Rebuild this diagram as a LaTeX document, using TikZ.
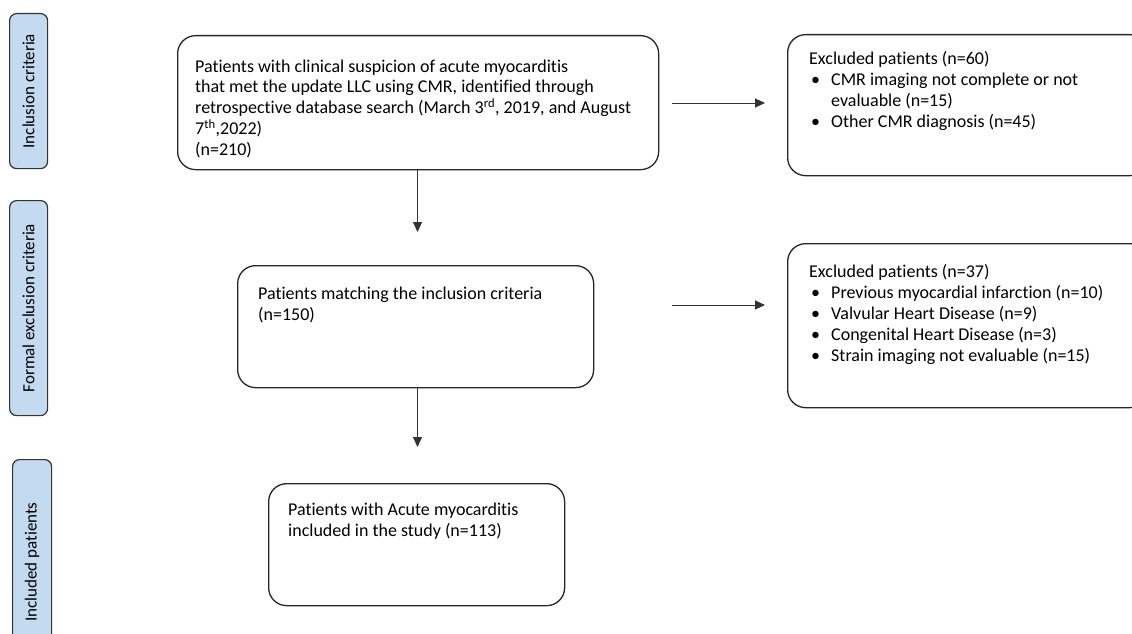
\documentclass[tikz,border=0pt]{standalone}
\usepackage{fontspec}
\setmainfont[Ligatures=NoCommon]{Carlito}
\usetikzlibrary{arrows.meta}
\definecolor{sidefill}{HTML}{C3DAF0}
\definecolor{sidedraw}{HTML}{333333}
\tikzset{
  sidebox/.style={draw=sidedraw, line width=1.2pt, fill=sidefill, rounded corners=7pt, inner sep=0pt, anchor=north west},
  sidetxt/.style={rotate=90, font=\fontsize{17}{20}\selectfont, inner sep=0pt},
  mainbox/.style={draw=black!85, line width=1.3pt, rounded corners=18pt, inner sep=0pt, anchor=north west},
  txt/.style={anchor=north west, inner sep=0pt, align=left, font=\fontsize{18}{20.8}\selectfont},
  arr/.style={draw=black!80, line width=0.9pt, -{Triangle[length=10pt,width=9pt]}},
}
\newcommand{\bul}{\makebox[22pt][l]{\hspace{2pt}\textbullet}}
\newcommand{\bulsp}{\hspace*{22pt}}
\newcommand{\sups}[1]{\smash{\textsuperscript{#1}}}
\begin{document}
\begin{tikzpicture}[x=1pt,y=-1pt]
\clip (0,0) rectangle (1132,634);
\fill[white] (0,0) rectangle (1132,634);
% side labels
\node[sidebox, minimum width=38pt, minimum height=155pt] (S1) at (9,13) {};
\node[sidetxt] (S1t) at (S1.center) {Inclusion criteria};
\node[sidebox, minimum width=38pt, minimum height=215pt] (S2) at (9,200) {};
\node[sidetxt] (S2t) at (S2.center) {Formal exclusion criteria};
\node[sidebox, minimum width=39pt, minimum height=205pt] (S3) at (12,459) {};
\node[sidetxt] (S3t) at (S3.center) {Included patients};
% main boxes
\node[mainbox, minimum width=481pt, minimum height=134pt] (A) at (177,35) {};
\node[txt] (At) at (195,59.5) {Patients with clinical suspicion of acute myocarditis\\
that met the update LLC using CMR, identified through\\
retrospective database search (March 3\sups{rd}, 2019, and August\\
7\sups{th},2022)\\
(n=210)};
\node[mainbox, minimum width=356pt, minimum height=122pt] (B) at (237,265) {};
\node[txt] (Bt) at (258,286.5) {Patients matching the inclusion criteria\\(n=150)};
\node[mainbox, minimum width=296pt, minimum height=122pt] (C) at (268,483) {};
\node[txt] (Ct) at (288,502.5) {Patients with Acute myocarditis\\included in the study (n=113)};
\node[mainbox, minimum width=360pt, minimum height=141pt] (E1) at (787,34) {};
\node[txt] (E1t) at (809,51.5) {Excluded patients (n=60)\\
\bul CMR imaging not complete or not\\
\bulsp evaluable (n=15)\\
\bul Other CMR diagnosis (n=45)};
\node[mainbox, minimum width=360pt, minimum height=164pt] (E2) at (787,243) {};
\node[txt] (E2t) at (809,264.5) {Excluded patients (n=37)\\
\bul Previous myocardial infarction (n=10)\\
\bul Valvular Heart Disease (n=9)\\
\bul Congenital Heart Disease (n=3)\\
\bul Strain imaging not evaluable (n=15)};
% connectors
\coordinate (dA) at (417.5,232);
\coordinate (dB) at (417.5,447);
\coordinate (h1s) at (672,103);
\coordinate (h1e) at (765,103);
\coordinate (h2s) at (672,305);
\coordinate (h2e) at (765,305);
\draw[arr] (A.south -| dA) -- (dA);
\draw[arr] (B.south -| dB) -- (dB);
\draw[arr] (h1s) -- (h1e);
\draw[arr] (h2s) -- (h2e);
\end{tikzpicture}
\end{document}
